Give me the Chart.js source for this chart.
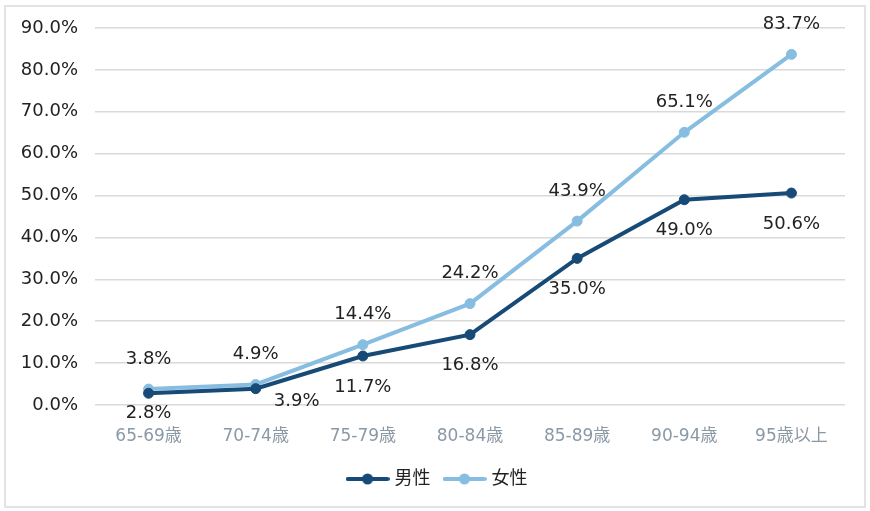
<!DOCTYPE html>
<html>
<head>
<meta charset="utf-8">
<script src="https://cdn.jsdelivr.net/npm/chart.js@4/dist/chart.umd.min.js"></script>
<style>
  html, body { margin: 0; padding: 0; background: #fff; }
  #wrap { position: relative; width: 870px; height: 511px; }
  #frame { position: absolute; left: 4px; top: 5px; width: 858px; height: 499px; border: 2px solid #e3e3e3; box-sizing: content-box; pointer-events: none; }
  canvas { position: absolute; left: 0; top: 0; }
</style>
</head>
<body>
<div id="wrap">
  <canvas id="chart" width="870" height="511"></canvas>
  <div id="frame"></div>
</div>
<script>
// 年齢階級別の割合（%）
const categories = ['65-69歳', '70-74歳', '75-79歳', '80-84歳', '85-89歳', '90-94歳', '95歳以上'];
const male = [2.8, 3.9, 11.7, 16.8, 35.0, 49.0, 50.6];
const female = [3.8, 4.9, 14.4, 24.2, 43.9, 65.1, 83.7];
const seriesNames = ['男性', '女性'];
const yTicks = [0, 10, 20, 30, 40, 50, 60, 70, 80, 90];

const darkBlue = '#174a76';
const lightBlue = '#86bde0';
const font = "'DejaVu Sans', 'Noto Sans CJK JP', sans-serif";

// 凡例用のマーカー（線＋丸）
function legendMark(color) {
  const c = document.createElement('canvas');
  c.width = 44; c.height = 14;
  const g = c.getContext('2d');
  g.strokeStyle = color;
  g.lineWidth = 4;
  g.lineCap = 'round';
  g.beginPath(); g.moveTo(2, 7); g.lineTo(42, 7); g.stroke();
  g.fillStyle = color;
  g.beginPath(); g.arc(22, 7, 5.5, 0, Math.PI * 2); g.fill();
  return c;
}
const marks = [legendMark(darkBlue), legendMark(lightBlue)];

// データラベル
const labelPlugin = {
  id: 'labels',
  afterLayout(chart) {
    // 凡例を少し右へ
    chart.legend.left += 16;
    chart.legend.right += 16;
  },
  afterDatasetsDraw(chart) {
    const ctx = chart.ctx;
    ctx.save();
    ctx.font = '18px ' + font;
    ctx.fillStyle = '#222';
    ctx.textAlign = 'center';
    ctx.textBaseline = 'middle';
    chart.data.datasets.forEach((ds, di) => {
      chart.getDatasetMeta(di).data.forEach((pt, i) => {
        let dx = 0, dy = di === 0 ? 31 : -30;
        if (di === 0 && i === 0) dy = 20;
        if (di === 0 && i === 1) { dx = 41; dy = 13; }
        ctx.fillText(ds.data[i].toFixed(1) + '%', pt.x + dx, pt.y + dy);
      });
    });
    ctx.restore();
  }
};

const ctx = document.getElementById('chart').getContext('2d');
new Chart(ctx, {
  type: 'line',
  data: {
    labels: categories,
    datasets: [
      {
        label: seriesNames[0],
        data: male,
        borderColor: darkBlue,
        backgroundColor: darkBlue,
        borderWidth: 4,
        pointRadius: 5,
        pointBorderWidth: 1,
        tension: 0
      },
      {
        label: seriesNames[1],
        data: female,
        borderColor: lightBlue,
        backgroundColor: lightBlue,
        borderWidth: 4,
        pointRadius: 5,
        pointBorderWidth: 1,
        tension: 0
      }
    ]
  },
  options: {
    responsive: false,
    animation: false,
    layout: { padding: { left: 0, right: 25, top: 28, bottom: 13 } },
    scales: {
      x: {
        offset: true,
        grid: { display: false },
        border: { display: false },
        ticks: { color: '#8a99a6', font: { family: font, size: 17 }, padding: 13 },
        afterFit: s => { s.height = 49; }
      },
      y: {
        min: 0,
        max: 90,
        afterBuildTicks: s => { s.ticks = yTicks.map(v => ({ value: v })); },
        grid: { color: '#d9d9d9', lineWidth: 1.5, drawTicks: false },
        border: { display: false },
        ticks: {
          color: '#222',
          font: { family: font, size: 18 },
          padding: 17,
          callback: v => v.toFixed(1) + '%'
        },
        afterFit: s => { s.width = 95; }
      }
    },
    plugins: {
      legend: {
        position: 'bottom',
        labels: {
          usePointStyle: true,
          pointStyleWidth: 36,
          color: '#222',
          font: { family: font, size: 18 },
          padding: 16,
          boxHeight: 14,
          generateLabels: chart => chart.data.datasets.map((ds, i) => ({
            text: ds.label,
            pointStyle: marks[i],
            fillStyle: ds.borderColor,
            strokeStyle: ds.borderColor,
            fontColor: '#222',
            lineWidth: 0,
            hidden: false,
            datasetIndex: i
          }))
        }
      },
      tooltip: { enabled: false }
    }
  },
  plugins: [labelPlugin]
});
</script>
</body>
</html>
